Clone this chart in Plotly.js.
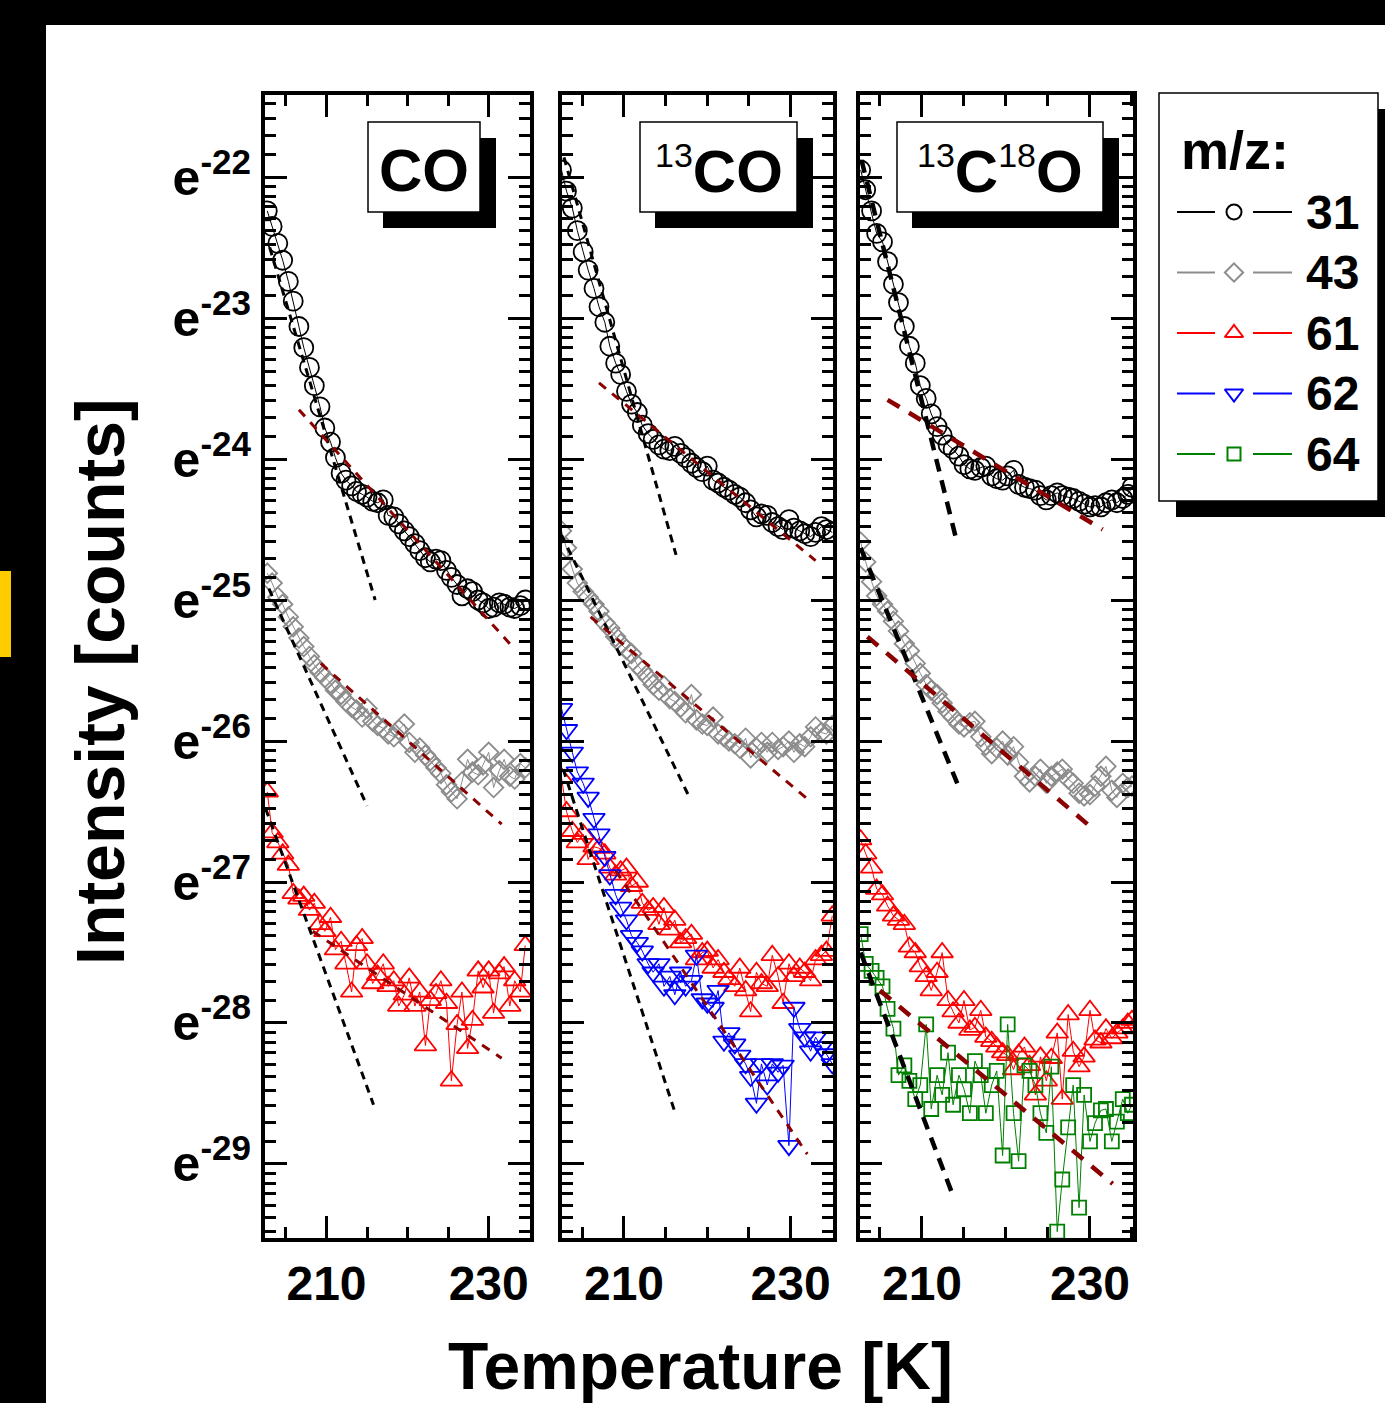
<!DOCTYPE html>
<html><head><meta charset="utf-8">
<script src="https://cdn.plot.ly/plotly-3.0.1.min.js"></script>
<style>html,body{margin:0;padding:0;background:#fff;}#chart{width:1385px;height:1403px;}</style>
</head><body><div id="chart"></div>
<script>
// ---------------- DATA (y = natural-log exponent of intensity) ----------------
const T_CO = [202.7, 203.3, 204.0, 204.6, 205.3, 205.9, 206.6, 207.2, 207.9, 208.5,
  209.2, 209.8, 210.5, 211.1, 211.8, 212.4, 213.1, 213.7, 214.4, 215.0,
  215.7, 216.3, 217.0, 217.6, 218.3, 218.9, 219.6, 220.2, 220.9, 221.5,
  222.2, 222.8, 223.5, 224.1, 224.8, 225.4, 226.1, 226.7, 227.4, 228.0,
  228.7, 229.3, 230.0, 230.6, 231.3, 231.9, 232.6, 233.2, 233.9, 234.5];
const CO_31 = [-22.24, -22.35, -22.47, -22.59, -22.74, -22.88, -23.06, -23.21, -23.35, -23.48,
  -23.63, -23.78, -23.88, -23.99, -24.10, -24.15, -24.19, -24.23, -24.25, -24.27,
  -24.30, -24.31, -24.29, -24.40, -24.41, -24.46, -24.51, -24.55, -24.60, -24.65,
  -24.70, -24.73, -24.71, -24.72, -24.79, -24.84, -24.89, -24.97, -24.92, -24.94,
  -25.00, -25.02, -25.06, -25.05, -25.02, -25.03, -25.05, -25.06, -25.04, -25.00];
const CO_43 = [-24.81, -24.88, -24.98, -25.03, -25.12, -25.19, -25.27, -25.33, -25.40, -25.46,
  -25.51, -25.55, -25.59, -25.64, -25.67, -25.72, -25.76, -25.78, -25.83, -25.77,
  -25.86, -25.89, -25.91, -25.95, -25.97, -25.92, -25.88, -26.01, -26.08, -26.05,
  -26.10, -26.14, -26.19, -26.23, -26.31, -26.36, -26.41, -26.29, -26.13, -26.22,
  -26.24, -26.17, -26.08, -26.33, -26.21, -26.13, -26.25, -26.27, -26.16, -26.19];
const CO_61 = [-26.36, -26.65, -26.72, -26.80, -26.88, -27.08, -27.12, -27.10, -27.20, -27.15,
  -27.30, -27.35, -27.25, -27.48, -27.42, -27.58, -27.78, -27.45, -27.40, -27.58,
  -27.72, -27.66, -27.58, -27.74, -27.70, -27.88, -27.80, -27.68, -27.88, -27.78,
  -28.16, -27.84, -27.79, -27.70, -27.86, -28.41, -28.01, -27.78, -28.18, -27.98,
  -27.63, -27.75, -27.63, -27.93, -27.65, -27.60, -27.88, -27.70, -27.78, -27.45];

const T_13CO = [202.5, 203.1, 203.8, 204.4, 205.1, 205.7, 206.4, 207.0, 207.7, 208.3,
  209.0, 209.6, 210.3, 210.9, 211.6, 212.2, 212.9, 213.5, 214.2, 214.8,
  215.5, 216.1, 216.8, 217.4, 218.1, 218.7, 219.4, 220.0, 220.7, 221.3,
  222.0, 222.6, 223.3, 223.9, 224.6, 225.2, 225.9, 226.5, 227.2, 227.8,
  228.5, 229.1, 229.8, 230.4, 231.1, 231.7, 232.4, 233.0, 233.7, 234.3, 235.0];
const C13O_31 = [-21.95, -22.10, -22.22, -22.38, -22.53, -22.66, -22.79, -22.92, -23.03, -23.20,
  -23.32, -23.40, -23.52, -23.61, -23.67, -23.76, -23.82, -23.86, -23.90, -23.93,
  -23.94, -23.91, -23.96, -23.99, -24.03, -24.06, -24.09, -24.05, -24.15, -24.17,
  -24.20, -24.22, -24.25, -24.27, -24.31, -24.36, -24.41, -24.39, -24.40, -24.45,
  -24.48, -24.50, -24.43, -24.49, -24.51, -24.53, -24.55, -24.52, -24.48, -24.50, -24.52];
const C13O_43 = [-24.51, -24.63, -24.78, -24.88, -24.94, -24.98, -25.03, -25.08, -25.16, -25.20,
  -25.26, -25.31, -25.35, -25.38, -25.46, -25.50, -25.55, -25.60, -25.64, -25.61,
  -25.70, -25.72, -25.76, -25.80, -25.67, -25.85, -25.88, -25.89, -25.83, -25.95,
  -25.97, -26.00, -26.02, -26.05, -25.98, -26.12, -26.05, -26.01, -26.08, -26.01,
  -26.06, -26.04, -26.00, -26.08, -26.02, -26.04, -25.97, -25.90, -25.94, -25.95, -25.89];
const C13O_61 = [-26.26, -26.50, -26.64, -26.72, -26.66, -26.84, -26.75, -26.76, -26.80, -26.90,
  -26.95, -26.92, -26.90, -27.03, -27.00, -27.15, -27.20, -27.18, -27.30, -27.18,
  -27.34, -27.27, -27.43, -27.40, -27.37, -27.55, -27.50, -27.49, -27.61, -27.55,
  -27.64, -27.69, -27.74, -27.61, -27.77, -27.92, -27.64, -27.72, -27.74, -27.52,
  -27.67, -27.86, -27.58, -27.67, -27.61, -27.64, -27.70, -27.55, -27.52, -27.49, -27.24];
const C13O_62 = [-25.77, -25.92, -26.08, -26.22, -26.30, -26.40, -26.55, -26.66, -26.82, -26.95,
  -27.09, -27.18, -27.27, -27.38, -27.43, -27.49, -27.58, -27.64, -27.58, -27.74,
  -27.67, -27.80, -27.64, -27.74, -27.70, -27.52, -27.83, -27.86, -27.89, -27.77,
  -28.13, -28.07, -28.15, -28.23, -28.29, -28.38, -28.57, -28.29, -28.44, -28.29,
  -28.35, -28.30, -28.87, -27.89, -28.04, -28.10, -28.20, -28.10, -28.17, -28.22, -28.29];

const T_13C18O = [202.7, 203.3, 204.0, 204.6, 205.3, 205.9, 206.6, 207.2, 207.9, 208.5,
  209.2, 209.8, 210.5, 211.1, 211.8, 212.4, 213.1, 213.7, 214.4, 215.0,
  215.7, 216.3, 217.0, 217.6, 218.3, 218.9, 219.6, 220.2, 220.9, 221.5,
  222.2, 222.8, 223.5, 224.1, 224.8, 225.4, 226.1, 226.7, 227.4, 228.0,
  228.7, 229.3, 230.0, 230.6, 231.3, 231.9, 232.6, 233.2, 233.9, 234.5, 235.0];
const C13O18_31 = [-21.95, -22.09, -22.24, -22.40, -22.46, -22.60, -22.76, -22.89, -23.06, -23.20,
  -23.32, -23.48, -23.57, -23.68, -23.77, -23.83, -23.90, -23.93, -23.98, -24.04,
  -24.07, -24.08, -24.06, -24.05, -24.12, -24.14, -24.15, -24.12, -24.08, -24.18,
  -24.20, -24.21, -24.22, -24.26, -24.29, -24.26, -24.24, -24.26, -24.27, -24.28,
  -24.30, -24.32, -24.34, -24.33, -24.34, -24.31, -24.29, -24.31, -24.28, -24.25, -24.20];
const C13O18_43 = [-24.59, -24.73, -24.87, -24.97, -25.03, -25.08, -25.15, -25.22, -25.31, -25.36,
  -25.45, -25.52, -25.60, -25.64, -25.67, -25.73, -25.79, -25.83, -25.88, -25.90,
  -25.87, -25.86, -25.97, -26.03, -26.09, -26.05, -26.00, -26.10, -26.04, -26.15,
  -26.25, -26.29, -26.25, -26.20, -26.30, -26.25, -26.22, -26.20, -26.27, -26.30,
  -26.37, -26.39, -26.38, -26.32, -26.25, -26.18, -26.35, -26.40, -26.30, -26.33, -26.32];
const C13O18_61 = [-26.70, -26.80, -26.90, -27.05, -27.09, -27.17, -27.24, -27.27, -27.30, -27.46,
  -27.50, -27.60, -27.67, -27.77, -27.64, -27.50, -27.84, -27.92, -28.00, -27.84,
  -28.05, -28.03, -27.91, -28.10, -28.13, -28.17, -28.21, -28.23, -28.33, -28.22,
  -28.17, -28.30, -28.51, -28.24, -28.41, -28.25, -28.07, -28.54, -27.94, -28.20,
  -28.31, -28.24, -27.91, -28.12, -28.14, -28.04, -28.11, -28.07, -28.04, -28.00, -27.98];
const C13O18_64 = [-27.37, -27.58, -27.63, -27.68, -27.74, -27.90, -28.04, -28.37, -28.30, -28.41,
  -28.54, -28.44, -28.01, -28.61, -28.37, -28.51, -28.21, -28.58, -28.37, -28.47,
  -28.64, -28.27, -28.37, -28.64, -28.44, -28.34, -28.94, -28.01, -28.64, -28.98,
  -28.30, -28.34, -28.44, -28.64, -28.78, -28.31, -29.48, -29.11, -28.74, -28.44,
  -29.31, -28.51, -28.84, -28.71, -28.62, -28.61, -28.84, -28.70, -28.54, -28.64, -28.58];

// Linear fits drawn in the panels: [T start, T end], [ln I start, ln I end]
const FIT_CO_31_A = [[203.0, 216.0], [-22.50, -25.00]];
const FIT_CO_31_B = [[206.6, 232.6], [-23.65, -25.31]];
const FIT_CO_43_A = [[202.9, 215.0], [-24.92, -26.46]];
const FIT_CO_43_B = [[209.3, 231.6], [-25.45, -26.59]];
const FIT_CO_61_A = [[202.5, 215.8], [-26.48, -28.58]];
const FIT_CO_61_B = [[208.3, 231.6], [-27.35, -28.25]];
const FIT_13CO_31_A = [[202.8, 216.25], [-21.86, -24.68]];
const FIT_13CO_31_B = [[207.0, 233.0], [-23.46, -24.72]];
const FIT_13CO_43_A = [[202.5, 217.7], [-24.54, -26.38]];
const FIT_13CO_43_B = [[206.0, 232.0], [-25.12, -26.41]];
const FIT_13CO_62_A = [[202.7, 216.1], [-26.20, -28.63]];
const FIT_13CO_62_B = [[209.0, 232.0], [-26.92, -28.93]];
const FIT_13C18O_31_A = [[202.8, 214.0], [-21.88, -24.55]];
const FIT_13C18O_31_B = [[205.9, 231.5], [-23.58, -24.50]];
const FIT_13C18O_43_A = [[202.7, 214.2], [-24.63, -26.30]];
const FIT_13C18O_43_B = [[203.5, 229.9], [-25.26, -26.60]];
const FIT_13C18O_64_A = [[202.7, 213.6], [-27.50, -29.21]];
const FIT_13C18O_64_B = [[205.0, 232.7], [-27.77, -29.14]];

const Y_TICK_EXP = [-22, -23, -24, -25, -26, -27, -28, -29];
const X_TICKS = [210, 230];
const MZ_LABELS = ['31', '43', '61', '62', '64'];
const PANEL_LABELS = ['CO', '<sup><span style="font-size:34px;font-weight:normal">13</span></sup>CO',
  '<sup><span style="font-size:34px;font-weight:normal">13</span></sup>C<sup><span style="font-size:34px;font-weight:normal">18</span></sup>O'];

// ---------------- STYLE ----------------
const W = 1385, H = 1403;
const FONT = 'Liberation Sans, Arial, Helvetica, sans-serif';
const STY = {
  '31': {color: '#000000', symbol: 'circle-open', size: 19, key: 15},
  '43': {color: '#8c8c8c', symbol: 'diamond-open', size: 15, key: 14},
  '61': {color: '#ff0000', symbol: 'triangle-up-open', size: 19, key: 16},
  '62': {color: '#0000ff', symbol: 'triangle-down-open', size: 19, key: 16},
  '64': {color: '#008000', symbol: 'square-open', size: 14, key: 13}
};
const FIT_BLACK = '#000000', FIT_RED = '#8b0000';
const TOP = 95, BOT = 1238;
const PANELS = [
  {l: 265, r: 530, range: [202.42, 235.09], T: T_CO,
   series: [['31', CO_31], ['43', CO_43], ['61', CO_61]],
   fits: [FIT_CO_31_A, FIT_CO_31_B, FIT_CO_43_A, FIT_CO_43_B, FIT_CO_61_A, FIT_CO_61_B],
   fw: 3, dashA: '8px,6px', dashB: '9px,8px', box: [368, 480]},
  {l: 562, r: 833, range: [202.56, 235.09], T: T_13CO,
   series: [['31', C13O_31], ['43', C13O_43], ['61', C13O_61], ['62', C13O_62]],
   fits: [FIT_13CO_31_A, FIT_13CO_31_B, FIT_13CO_43_A, FIT_13CO_43_B, FIT_13CO_62_A, FIT_13CO_62_B],
   fw: 3, dashA: '8px,6px', dashB: '9px,8px', box: [640, 797]},
  {l: 860, r: 1133, range: [202.62, 235.12], T: T_13C18O,
   series: [['31', C13O18_31], ['43', C13O18_43], ['61', C13O18_61], ['64', C13O18_64]],
   fits: [FIT_13C18O_31_A, FIT_13C18O_31_B, FIT_13C18O_43_A, FIT_13C18O_43_B, FIT_13C18O_64_A, FIT_13C18O_64_B],
   fw: 4.5, dashA: '13px,9px', dashB: '14px,11px', box: [897, 1103]}
];

const yMinor = [];
for (let n = -30; n <= -22; n++) for (let k = 1; k <= 9; k++) yMinor.push(n + Math.log(1 + k * (Math.E - 1) / 10));

const traces = [];
const layout = {
  width: W, height: H, margin: {l: 0, r: 0, t: 0, b: 0},
  paper_bgcolor: '#ffffff', plot_bgcolor: 'rgba(0,0,0,0)', showlegend: false,
  font: {family: FONT, color: '#000'},
  shapes: [], annotations: []
};

PANELS.forEach((p, i) => {
  const sx = i === 0 ? '' : String(i + 1);
  const xa = 'x' + sx, ya = 'y' + sx;
  p.series.forEach(([mz, vals]) => {
    const s = STY[mz];
    traces.push({type: 'scatter', mode: 'lines+markers', x: p.T, y: vals, xaxis: xa, yaxis: ya,
      name: 'm/z ' + mz,
      line: {color: s.color, width: 1},
      marker: {symbol: s.symbol, size: s.size, color: s.color, line: {color: s.color, width: 1.8}}});
  });
  p.fits.forEach((f, j) => {
    const fast = j % 2 === 0;
    traces.push({type: 'scatter', mode: 'lines', x: f[0], y: f[1], xaxis: xa, yaxis: ya,
      line: {color: fast ? FIT_BLACK : FIT_RED, width: p.fw, dash: fast ? p.dashA : p.dashB}});
  });
  const axCommon = {showline: true, linewidth: 4, linecolor: '#000', mirror: 'allticks',
    ticks: 'inside', tickwidth: 3, tickcolor: '#000', showgrid: false, zeroline: false, fixedrange: true};
  layout['xaxis' + sx] = Object.assign({}, axCommon, {
    domain: [p.l / W, p.r / W], range: p.range, anchor: ya,
    tickmode: 'array', tickvals: X_TICKS, ticktext: X_TICKS.map(String), ticklen: 22,
    tickfont: {family: FONT, size: 48, color: '#000', weight: 'bold'},
    minor: {dtick: 5, tick0: 205, ticks: 'inside', ticklen: 11, tickwidth: 3, tickcolor: '#000'}
  });
  layout['yaxis' + sx] = Object.assign({}, axCommon, {
    domain: [1 - BOT / H, 1 - TOP / H], range: [-29.525, -21.418], anchor: xa,
    tickmode: 'array', tickvals: Y_TICK_EXP, ticktext: Y_TICK_EXP.map(v => 'e<sup>' + v + '</sup>'),
    ticklen: 22, showticklabels: i === 0,
    tickfont: {family: FONT, size: 50, color: '#000', weight: 'bold'},
    minor: {tickmode: 'array', tickvals: yMinor, ticks: 'inside', ticklen: 11, tickwidth: 3, tickcolor: '#000'}
  });
  // label box with drop shadow
  const [bl, br] = p.box;
  layout.shapes.push({type: 'rect', xref: 'x4', yref: 'y4', x0: bl + 15, x1: br + 16, y0: 138, y1: 228,
    fillcolor: '#000', line: {width: 0}, layer: 'above'});
  layout.shapes.push({type: 'rect', xref: 'x4', yref: 'y4', x0: bl, x1: br, y0: 122, y1: 212,
    fillcolor: '#fff', line: {color: '#000', width: 1.5}, layer: 'above'});
  layout.annotations.push({xref: 'x4', yref: 'y4', x: (bl + br) / 2, y: 170, text: PANEL_LABELS[i],
    showarrow: false, xanchor: 'center', yanchor: 'middle',
    font: {family: FONT, size: 60, color: '#000', weight: 'bold'}});
});

// full-figure pixel overlay axes for the key and frame
layout.xaxis4 = {domain: [0, 1], range: [0, W], visible: false, anchor: 'y4', fixedrange: true};
layout.yaxis4 = {domain: [0, 1], range: [H, 0], visible: false, anchor: 'x4', fixedrange: true};

// key box (drawn below the key traces)
const KEY = {l: 1159, r: 1378, t: 93, b: 501, row0: 212, step: 60.5};
layout.shapes.push({type: 'rect', xref: 'x4', yref: 'y4', x0: KEY.l + 17, x1: KEY.r + 17, y0: KEY.t + 16, y1: KEY.b + 16,
  fillcolor: '#000', line: {width: 0}, layer: 'below'});
layout.shapes.push({type: 'rect', xref: 'x4', yref: 'y4', x0: KEY.l, x1: KEY.r, y0: KEY.t, y1: KEY.b,
  fillcolor: '#fff', line: {color: '#000', width: 1.5}, layer: 'below'});
layout.annotations.push({xref: 'x4', yref: 'y4', x: 1179, y: 150, text: 'm/z:', showarrow: false,
  xanchor: 'left', yanchor: 'middle', font: {family: FONT, size: 54, color: '#000', weight: 'bold'}});
const keyTraces = [];
MZ_LABELS.forEach((mz, k) => {
  const s = STY[mz];
  const ry = KEY.row0 + k * KEY.step;
  keyTraces.push({type: 'scatter', mode: 'lines', xaxis: 'x4', yaxis: 'y4',
    x: [1177, 1215, null, 1253, 1292], y: [ry, ry, null, ry, ry], line: {color: s.color, width: 2}, hoverinfo: 'skip'});
  keyTraces.push({type: 'scatter', mode: 'markers', xaxis: 'x4', yaxis: 'y4', x: [1234], y: [ry],
    marker: {symbol: s.symbol, size: s.key, color: s.color, line: {color: s.color, width: 2}}, hoverinfo: 'skip'});
  layout.annotations.push({xref: 'x4', yref: 'y4', x: 1304, y: ry, text: mz, showarrow: false,
    xanchor: 'left', yanchor: 'middle', font: {family: FONT, size: 48, color: '#000', weight: 'bold'}});
});

// axis titles
layout.annotations.push({xref: 'x4', yref: 'y4', x: 100, y: 682, text: 'Intensity [counts]', textangle: -90,
  showarrow: false, xanchor: 'center', yanchor: 'middle', font: {family: FONT, size: 68, color: '#000', weight: 'bold'}});
layout.annotations.push({xref: 'x4', yref: 'y4', x: 700, y: 1366, text: 'Temperature [K]',
  showarrow: false, xanchor: 'center', yanchor: 'middle', font: {family: FONT, size: 66, color: '#000', weight: 'bold'}});

// surrounding screen frame
layout.shapes.push({type: 'rect', xref: 'x4', yref: 'y4', x0: 0, x1: W, y0: 0, y1: 25, fillcolor: '#000', line: {width: 0}, layer: 'above'});
layout.shapes.push({type: 'rect', xref: 'x4', yref: 'y4', x0: 0, x1: 46, y0: 0, y1: H, fillcolor: '#000', line: {width: 0}, layer: 'above'});
layout.shapes.push({type: 'rect', xref: 'x4', yref: 'y4', x0: 0, x1: 11, y0: 571, y1: 657, fillcolor: '#ffcc00', line: {width: 0}, layer: 'above'});

Plotly.newPlot('chart', traces.concat(keyTraces), layout, {staticPlot: true, displayModeBar: false});
</script></body></html>
